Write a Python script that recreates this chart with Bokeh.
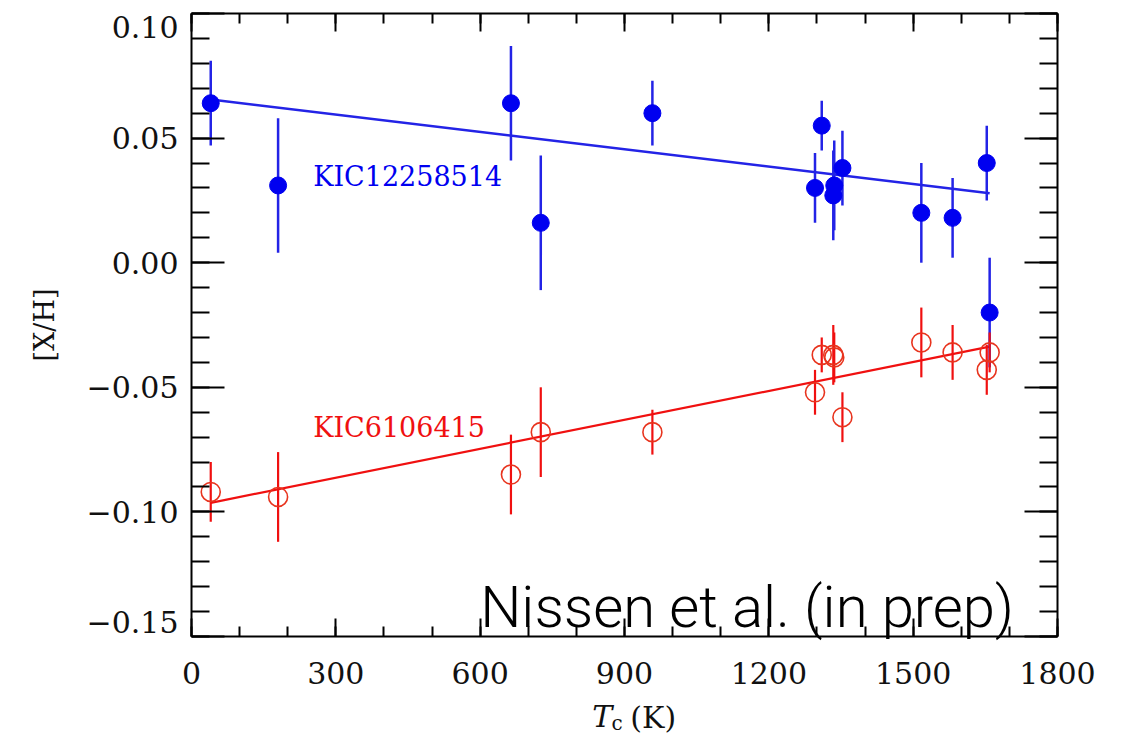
from bokeh.plotting import figure
from bokeh.models import (FixedTicker, LinearAxis, Range1d, Label,
                          CustomJSTickFormatter)
from bokeh.embed import file_html
from bokeh.resources import INLINE

# Condensation temperatures (K) of the elements
elements = ["C", "O", "S", "Zn", "Na", "Cr", "Si", "Fe", "Mg", "Ni",
            "Ca", "Ti", "Al", "Sc"]
tc = [40, 180, 664, 726, 958, 1296, 1310, 1334, 1336, 1353,
      1517, 1582, 1653, 1659]

# KIC12258514 abundances and errors
blue_xh = [0.064, 0.031, 0.064, 0.016, 0.060, 0.030, 0.055, 0.027, 0.031,
           0.038, 0.020, 0.018, 0.040, -0.020]
blue_err = [0.017, 0.027, 0.023, 0.027, 0.013, 0.014, 0.010, 0.018, 0.018,
            0.015, 0.020, 0.016, 0.015, 0.022]

# KIC6106415 abundances and errors
red_xh = [-0.092, -0.094, -0.085, -0.068, -0.068, -0.052, -0.037, -0.037,
          -0.038, -0.062, -0.032, -0.036, -0.043, -0.036]
red_err = [0.012, 0.018, 0.016, 0.018, 0.009, 0.009, 0.007, 0.012, 0.010,
           0.010, 0.014, 0.011, 0.010, 0.008]

# Linear trends [intercept, slope per K]
blue_fit = [0.0664, -2.32e-5]
red_fit = [-0.0979, 3.87e-5]

x_major = [0, 300, 600, 900, 1200, 1500, 1800]
x_minor = list(range(0, 1801, 100))
y_major = [-0.15, -0.10, -0.05, 0.00, 0.05, 0.10]
y_minor = [round(-0.15 + 0.01 * i, 2) for i in range(26)]

BLUE = "#0000f0"
BLUE_LINE = "#2323e6"
RED = "#f01010"
INK = "#111111"
SERIF = "DejaVu Serif"

x_lo, x_hi = x_major[0], x_major[-1]
y_lo, y_hi = y_major[0], y_major[-1]

# The frame covers the whole canvas; the box axes sit at fixed locations
# inside it so that texts around the box are never clipped.
p = figure(width=1124, height=736, output_backend="svg", toolbar_location=None,
           x_range=Range1d(-397.0, 1939.3), y_range=Range1d(-0.19013, 0.10522),
           min_border_left=0, min_border_right=0,
           min_border_top=0, min_border_bottom=0)
p.grid.visible = False
p.outline_line_color = None
p.background_fill_color = "white"
p.border_fill_color = "white"

y_fmt = CustomJSTickFormatter(code="""
    if (tick > 0.099 || tick < -0.149) return "";
    const s = Math.abs(tick).toFixed(2);
    return (tick < -1e-9 ? "\\u2212" : "") + s;
""")
blank = CustomJSTickFormatter(code="return '';")


def style_axis(ax, ticker, is_y, show_labels):
    ax.ticker = ticker
    ax.axis_line_width = 2
    ax.axis_line_color = "black"
    ax.major_tick_line_width = 2
    ax.minor_tick_line_width = 2
    ax.major_tick_out = 0
    ax.minor_tick_out = 0
    ax.major_tick_in = 33 if is_y else 18
    ax.minor_tick_in = 18 if is_y else 10
    ax.major_label_text_font = SERIF
    ax.major_label_text_font_size = "30px"
    ax.major_label_text_color = INK
    ax.bounds = (y_lo, y_hi) if is_y else (x_lo, x_hi)
    if not show_labels:
        ax.formatter = blank
        ax.major_label_text_font_size = "0px"
        ax.major_label_standoff = 0


def xt():
    return FixedTicker(ticks=x_major, minor_ticks=x_minor)


def yt():
    return FixedTicker(ticks=y_major, minor_ticks=y_minor)


bottom = p.xaxis[0]
style_axis(bottom, xt(), False, True)
bottom.fixed_location = y_lo
bottom.major_label_standoff = 26

left = p.yaxis[0]
style_axis(left, yt(), True, True)
left.fixed_location = x_lo
left.formatter = y_fmt
left.major_label_standoff = 13
left.axis_label = "[X/H]"
left.axis_label_text_font = SERIF
left.axis_label_text_font_size = "27px"
left.axis_label_text_font_style = "normal"
left.axis_label_text_color = INK
left.axis_label_standoff = 24

top_ax = LinearAxis(fixed_location=y_hi)
style_axis(top_ax, xt(), False, False)
p.add_layout(top_ax, "above")
right_ax = LinearAxis(fixed_location=x_hi)
style_axis(right_ax, yt(), True, False)
p.add_layout(right_ax, "right")

# end labels of the y axis, nudged inside the box as in IDL plots
p.add_layout(Label(x=x_lo, y=y_hi, x_offset=-13, y_offset=-13,
                   text="%.2f" % y_hi, text_font=SERIF, text_font_size="30px",
                   text_color=INK, text_align="right", text_baseline="middle"))
p.add_layout(Label(x=x_lo, y=y_lo, x_offset=-13, y_offset=14,
                   text="\u2212%.2f" % abs(y_lo), text_font=SERIF,
                   text_font_size="30px", text_color=INK,
                   text_align="right", text_baseline="middle"))

# trend lines across the temperature range
x_ends = [min(tc), max(tc)]
p.line(x_ends, [blue_fit[0] + blue_fit[1] * t for t in x_ends],
       line_color=BLUE_LINE, line_width=2.5)
p.line(x_ends, [red_fit[0] + red_fit[1] * t for t in x_ends],
       line_color=RED, line_width=2.2)

# KIC12258514: filled circles with error bars
p.segment(x0=tc, y0=[v - e for v, e in zip(blue_xh, blue_err)],
          x1=tc, y1=[v + e for v, e in zip(blue_xh, blue_err)],
          line_color=BLUE_LINE, line_width=2.5)
p.scatter(tc, blue_xh, marker="circle", size=17, fill_color=BLUE,
          line_color=BLUE)

# KIC6106415: open circles with error bars
p.segment(x0=tc, y0=[v - e for v, e in zip(red_xh, red_err)],
          x1=tc, y1=[v + e for v, e in zip(red_xh, red_err)],
          line_color=RED, line_width=2.2)
p.scatter(tc, red_xh, marker="circle", size=19, fill_color=None,
          line_color="#e8341e", line_width=1.6)

# star names
p.add_layout(Label(x=253, y=0.0345, text="KIC12258514", text_color=BLUE,
                   text_font=SERIF, text_font_size="27px",
                   text_baseline="middle", text_align="left"))
p.add_layout(Label(x=253, y=-0.0663, text="KIC6106415", text_color=RED,
                   text_font=SERIF, text_font_size="27px",
                   text_baseline="middle", text_align="left"))

# x axis title: T_c (K)
p.add_layout(Label(x=833, y=-0.1822, text="T", text_font=SERIF,
                   text_font_style="italic", text_font_size="30px",
                   text_color=INK, text_baseline="middle"))
p.add_layout(Label(x=873, y=-0.1846, text="c", text_font=SERIF,
                   text_font_size="20px", text_color=INK,
                   text_baseline="middle"))
p.add_layout(Label(x=912, y=-0.1826, text="(K)", text_font=SERIF,
                   text_font_size="30px", text_color=INK,
                   text_baseline="middle"))

# source note
p.add_layout(Label(x=600, y=-0.1380, text="Nissen et al. (in prep)",
                   text_font="Roboto Light", text_font_size="58px",
                   text_color="black", text_baseline="middle"))

open("out.html", "w").write(file_html(p, INLINE))
